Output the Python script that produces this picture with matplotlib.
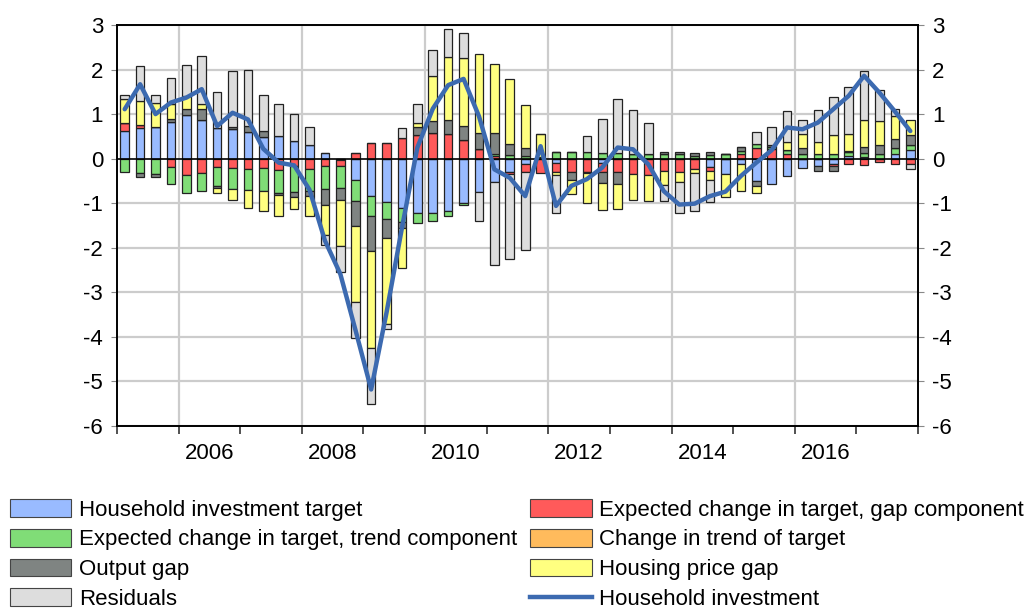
import numpy as np
import matplotlib
matplotlib.use('Agg')
from matplotlib import pyplot as plt
from matplotlib.patches import Patch
from matplotlib.lines import Line2D

plt.rcParams['font.family'] = ['Liberation Sans', 'DejaVu Sans']
plt.rcParams['axes.unicode_minus'] = False

# quarterly data 2005Q1 - 2017Q4
start_year = 2005
n_quarters = 52

target = [0.62, 0.68, 0.71, 0.83, 0.98, 0.87, 0.68, 0.66, 0.60, 0.49, 0.51, 0.40,
          0.30, 0.13, -0.03, -0.48, -0.83, -0.97, -1.11, -1.21, -1.22, -1.17, -1.00, -0.74,
          -0.52, -0.30, -0.12, 0.00, -0.09, 0.00, 0.00, -0.10, 0.00, 0.00, 0.00, 0.00,
          0.00, 0.00, -0.19, -0.34, -0.12, -0.50, -0.57, -0.39, -0.22, -0.17, -0.12, 0.06,
          0.04, 0.00, 0.11, 0.19]
gap_comp = [0.19, 0.07, 0.00, -0.18, -0.37, -0.32, -0.18, -0.22, -0.23, -0.20, -0.26, -0.17,
            -0.23, -0.16, -0.13, 0.12, 0.36, 0.36, 0.47, 0.52, 0.58, 0.55, 0.43, 0.22,
            0.06, -0.04, -0.19, -0.33, -0.20, -0.31, -0.29, -0.19, -0.31, -0.34, -0.37, -0.28,
            -0.29, -0.24, -0.08, 0.00, 0.11, 0.25, 0.22, 0.10, 0.00, 0.00, -0.05, -0.13,
            -0.14, -0.08, -0.13, -0.13]
trend_comp = [-0.31, -0.32, -0.35, -0.39, -0.39, -0.40, -0.43, -0.46, -0.47, -0.52, -0.52, -0.58,
              -0.49, -0.52, -0.50, -0.46, -0.45, -0.39, -0.31, -0.24, -0.19, -0.11, -0.04, 0.00,
              0.05, 0.08, 0.07, 0.03, 0.15, 0.16, 0.15, 0.13, 0.13, 0.10, 0.11, 0.11,
              0.11, 0.07, 0.08, 0.10, 0.06, 0.08, 0.05, 0.09, 0.10, 0.10, 0.11, 0.08,
              0.08, 0.10, 0.12, 0.11]
trend_change = [0.0] * n_quarters
output_gap = [0.00, -0.10, -0.07, 0.05, 0.14, 0.25, -0.04, 0.05, 0.13, 0.13, -0.03, -0.11,
              -0.11, -0.37, -0.27, -0.58, -0.79, -0.43, -0.14, 0.19, 0.26, 0.32, 0.31, 0.36,
              0.47, 0.24, 0.16, 0.00, 0.00, -0.17, -0.03, -0.25, -0.26, 0.00, 0.00, 0.04,
              0.04, 0.05, 0.08, 0.00, 0.09, -0.11, 0.04, 0.00, 0.13, -0.10, -0.11, 0.03,
              0.15, 0.21, 0.22, 0.23]
house_price = [0.52, 0.55, 0.55, 0.34, 0.28, 0.10, -0.11, -0.24, -0.40, -0.45, -0.48, -0.26,
               -0.45, -0.67, -1.02, -1.70, -2.17, -1.91, -0.90, 0.10, 1.01, 1.42, 1.52, 1.76,
               1.54, 1.46, 0.97, 0.53, -0.08, -0.31, -0.68, -0.62, -0.56, -0.58, -0.58, -0.31,
               -0.23, -0.08, -0.22, -0.53, -0.60, -0.15, 0.00, 0.19, 0.32, 0.28, 0.43, 0.38,
               0.60, 0.54, 0.50, 0.33]
residuals = [0.11, 0.77, 0.16, 0.58, 0.71, 1.09, 0.82, 1.26, 1.26, 0.82, 0.71, 0.60,
             0.42, -0.22, -0.59, -0.80, -1.27, -0.13, 0.21, 0.41, 0.60, 0.62, 0.56, -0.67,
             -1.87, -1.92, -1.75, 0.00, -0.84, 0.00, 0.36, 0.75, 1.20, 0.99, 0.68, -0.35,
             -0.69, -0.86, -0.49, 0.00, 0.00, 0.26, 0.39, 0.68, 0.32, 0.71, 0.85, 1.05,
             1.10, 0.69, 0.17, -0.11]
household_inv = [1.11, 1.67, 1.00, 1.26, 1.37, 1.56, 0.73, 1.03, 0.88, 0.22, -0.09, -0.15,
                 -0.70, -1.84, -2.59, -3.87, -5.18, -3.45, -1.55, 0.25, 1.12, 1.65, 1.79, 0.95,
                 -0.24, -0.43, -0.84, 0.28, -1.06, -0.61, -0.46, -0.20, 0.25, 0.21, -0.13, -0.73,
                 -1.03, -1.01, -0.84, -0.74, -0.39, -0.09, 0.19, 0.70, 0.66, 0.81, 1.11, 1.41,
                 1.86, 1.48, 1.06, 0.62]

series = [
    ("Household investment target", target, "#99bbff"),
    ("Expected change in target, gap component", gap_comp, "#ff5a5a"),
    ("Expected change in target, trend component", trend_comp, "#80dd77"),
    ("Change in trend of target", trend_change, "#ffbb5c"),
    ("Output gap", output_gap, "#7f8482"),
    ("Housing price gap", house_price, "#ffff80"),
    ("Residuals", residuals, "#dddddd"),
]

x = start_year + (np.arange(n_quarters) + 0.5) / 4.0

fig = plt.figure(figsize=(10.26, 6.12), dpi=100)
ax = fig.add_axes([117/1026, 1 - 426/612, (918-117)/1026, (426-25)/612])

pos_bottom = np.zeros(n_quarters)
neg_bottom = np.zeros(n_quarters)
handles = {}
for name, vals, col in series:
    v = np.array(vals)
    bottom = np.where(v >= 0, pos_bottom, neg_bottom)
    ax.bar(x, v, width=0.14, bottom=bottom, color=col, edgecolor='#222222',
           linewidth=0.9, zorder=3)
    pos_bottom += np.where(v > 0, v, 0)
    neg_bottom += np.where(v < 0, v, 0)
    handles[name] = Patch(facecolor=col, edgecolor='#444444', linewidth=0.8)

ax.plot(x, household_inv, color='#3c6ab0', linewidth=3.2, zorder=5,
        solid_capstyle='round', solid_joinstyle='round')
ax.axhline(0, color='black', linewidth=1.2, zorder=4)

ax.set_xlim(2005, 2018)
ax.set_ylim(-6, 3)
ax.set_yticks(range(-6, 4))
ax.set_xticks(range(2005, 2019))
ax.set_xticklabels([])
ax.set_xticks(np.arange(2006, 2018, 2) + 0.5, minor=True)
ax.set_xticklabels([str(y) for y in range(2006, 2018, 2)], minor=True)
ax.tick_params(axis='x', which='major', direction='out', length=6, width=1.2, color='#333333')
ax.tick_params(axis='x', which='minor', length=0, labelsize=16, pad=12)
ax.tick_params(axis='y', which='major', direction='out', length=4, width=0.8, color='#888888',
               labelsize=16, left=True, right=True, labelleft=True, labelright=True, pad=6)

for yv in range(-6, 4):
    if yv != 0:
        ax.axhline(yv, color='#cccccc', linewidth=1.6, zorder=1)
for xv in range(2006, 2018, 2):
    ax.axvline(xv, color='#cccccc', linewidth=1.6, zorder=1)

for s in ax.spines.values():
    s.set_linewidth(1.4)
    s.set_color('black')

order = ["Household investment target",
         "Expected change in target, trend component",
         "Output gap",
         "Residuals",
         "Expected change in target, gap component",
         "Change in trend of target",
         "Housing price gap"]
leg_handles = [handles[n] for n in order] + [Line2D([0], [0], color='#3c6ab0', linewidth=3.2)]
leg_labels = order + ["Household investment"]
fig.legend(leg_handles, leg_labels, ncol=2, loc='upper left',
           bbox_to_anchor=(10/1026, 1 - 499/612), frameon=False, fontsize=16,
           handlelength=2.75, handleheight=0.85, handletextpad=0.35,
           columnspacing=0.6, labelspacing=0.37, borderpad=0, borderaxespad=0)

fig.savefig('out.png', dpi=100)
